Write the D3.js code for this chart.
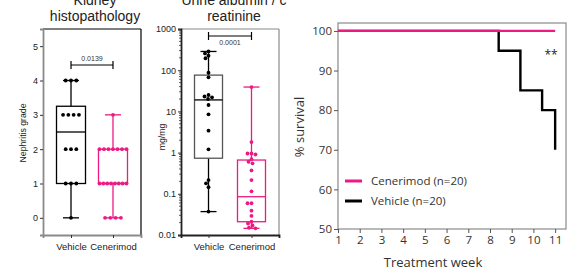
<!DOCTYPE html>
<html>
<head>
<meta charset="utf-8">
<script src="https://cdn.jsdelivr.net/npm/d3@7"></script>
<style>
  body { margin: 0; background: #fff; }
  svg { display: block; }
</style>
</head>
<body>
<div id="chart"></div>
<script>
// values
const groups = ["Vehicle", "Cenerimod"];

// nephritis grade per mouse
const gradeVehicle = [4, 4, 4, 3, 3, 3, 3, 2, 2, 2, 1, 1, 1, 0];
const gradeCenerimod = [3, 2, 2, 2, 2, 2, 2, 2, 1, 1, 1, 1, 1, 1, 1, 1, 0, 0, 0, 0];
// box summaries: min, q1, median, q3, max
const gradeBox = [[0, 1, 2.5, 3.25, 4], [0, 1, 1, 2, 3]];
const gradeTicks = [0, 1, 2, 3, 4, 5];

// urine albumin / creatinine, mg/mg
const uacrVehicle = [285, 255, 225, 195, 87, 67, 25, 23, 22, 20, 14.3, 8.5, 3.4, 1.2, 0.215, 0.18, 0.145, 0.037];
const uacrCenerimod = [39, 1.8, 0.95, 0.95, 0.9, 0.69, 0.6, 0.55, 0.37, 0.215, 0.115, 0.059, 0.059, 0.039, 0.029, 0.021, 0.019, 0.017, 0.015, 0.0145];
const uacrBox = [[0.037, 0.73, 19, 76, 285], [0.0145, 0.021, 0.085, 0.66, 39]];
const uacrTicks = [0.01, 0.1, 1, 10, 100, 1000];
const uacrTickLabels = ["0.01", "0.1", "1", "10", "100", "1000"];

// survival
const weeks = [1, 2, 3, 4, 5, 6, 7, 8, 9, 10, 11];
const survTicks = [50, 60, 70, 80, 90, 100];
const vehicleWeeks = [1, 8.4, 9.4, 10.4, 11];
const vehicleSurv = [100, 95, 85, 80, 70];
const cenerimodWeeks = [1, 11];
const cenerimodSurv = [100, 100];
const legendLabels = ["Cenerimod (n=20)", "Vehicle (n=20)"];

const pink = "#ec1a82";
const colors = ["#000000", pink];

const W = 578, H = 273;
const svg = d3.select("#chart").append("svg")
    .attr("width", W)
    .attr("height", H);

const arial = "Liberation Sans, Arial, sans-serif";
const sans = "Open Sans, Noto Sans, sans-serif";

// ---------- generic box + dots panel ----------
function boxPanel(opt) {
    const g = svg.append("g");
    const x = d3.scalePoint().domain(groups).range([opt.left, opt.right]).padding(opt.pad);
    const y = opt.y;

    // frame
    g.append("line").attr("x1", opt.left).attr("x2", opt.right).attr("y1", opt.top).attr("y2", opt.top)
        .attr("stroke", opt.topColor).attr("stroke-width", 1.2);
    g.append("line").attr("x1", opt.right).attr("x2", opt.right).attr("y1", opt.top).attr("y2", opt.bottom)
        .attr("stroke", opt.topColor).attr("stroke-width", 1.2);

    const yAxis = d3.axisLeft(y).tickValues(opt.ticks).tickSize(3).tickPadding(2)
        .tickFormat((d, i) => opt.tickLabels ? opt.tickLabels[i] : d);
    const ya = g.append("g").attr("transform", `translate(${opt.left},0)`).call(yAxis);
    ya.select(".domain").attr("stroke", opt.axisColor).attr("stroke-width", 1.8);
    ya.selectAll(".tick line").attr("stroke", "#333");
    ya.selectAll("text").attr("font-family", arial).attr("font-size", 9).attr("fill", "#222");

    if (opt.minor) {
        const minor = [];
        for (let e = -2; e < 3; e++) for (let k = 2; k < 10; k++) minor.push(k * Math.pow(10, e));
        g.append("g").selectAll("line").data(minor).join("line")
            .attr("x1", opt.left - 2).attr("x2", opt.left)
            .attr("y1", d => y(d)).attr("y2", d => y(d))
            .attr("stroke", "#333").attr("stroke-width", 0.8);
    }

    const xAxis = d3.axisBottom(x).tickSize(3).tickPadding(3);
    const xa = g.append("g").attr("transform", `translate(0,${opt.bottom})`).call(xAxis);
    xa.select(".domain").attr("stroke", opt.axisColor).attr("stroke-width", 1.8);
    xa.selectAll(".tick line").attr("stroke", "#333");
    xa.selectAll("text").attr("font-family", arial).attr("font-size", 9.5).attr("fill", "#222")
        .attr("dy", "0.9em");

    // y title
    g.append("text")
        .attr("transform", `translate(${opt.ylabX},${opt.ylabY}) rotate(-90)`)
        .attr("text-anchor", "middle")
        .attr("font-family", arial).attr("font-size", 8.7).attr("fill", "#222")
        .text(opt.ylab);

    // panel title
    g.append("g").selectAll("text").data(opt.title).join("text")
        .attr("x", opt.titleX).attr("y", (d, i) => 5 + i * 15.5)
        .attr("text-anchor", "middle")
        .attr("font-family", arial).attr("font-size", 14).attr("fill", "#222")
        .text(d => d);

    // boxes
    const bw = opt.boxWidth;
    opt.box.forEach((b, i) => {
        const cx = x(groups[i]);
        const col = i === 0 ? opt.vehBoxColor : pink;
        const bg = g.append("g").attr("stroke", col).attr("fill", "none").attr("stroke-width", 1.3);
        bg.append("line").attr("x1", cx).attr("x2", cx).attr("y1", y(b[0])).attr("y2", y(b[1]))
            .attr("stroke", colors[i]);
        bg.append("line").attr("x1", cx).attr("x2", cx).attr("y1", y(b[3])).attr("y2", y(b[4]))
            .attr("stroke", colors[i]);
        bg.append("line").attr("x1", cx - 8).attr("x2", cx + 8).attr("y1", y(b[0])).attr("y2", y(b[0]))
            .attr("stroke", colors[i]);
        bg.append("line").attr("x1", cx - 8).attr("x2", cx + 8).attr("y1", y(b[4])).attr("y2", y(b[4]))
            .attr("stroke", colors[i]);
        bg.append("rect").attr("x", cx - bw / 2).attr("width", bw)
            .attr("y", y(b[3])).attr("height", y(b[1]) - y(b[3]));
        bg.append("line").attr("x1", cx - bw / 2).attr("x2", cx + bw / 2)
            .attr("y1", y(b[2])).attr("y2", y(b[2])).attr("stroke", colors[i]);
    });

    // dots
    opt.data.forEach((vals, i) => {
        const cx = x(groups[i]);
        const pts = opt.layout(vals, cx, y);
        g.append("g").selectAll("circle").data(pts).join("circle")
            .attr("cx", d => d.x).attr("cy", d => d.y).attr("r", 1.9)
            .attr("fill", colors[i]);
    });

    // significance bracket
    const x0 = x(groups[0]), x1 = x(groups[1]);
    const br = g.append("g").attr("stroke", "#000").attr("stroke-width", 1.2);
    br.append("line").attr("x1", x0).attr("x2", x1).attr("y1", opt.brY).attr("y2", opt.brY);
    br.append("line").attr("x1", x0).attr("x2", x0).attr("y1", opt.brY - 4).attr("y2", opt.brY + 4);
    br.append("line").attr("x1", x1).attr("x2", x1).attr("y1", opt.brY - 4).attr("y2", opt.brY + 4);
    g.append("text").attr("x", (x0 + x1) / 2).attr("y", opt.pY)
        .attr("text-anchor", "middle")
        .attr("font-family", arial).attr("font-size", 7).attr("fill", "#333")
        .text(opt.p);
}

// rows of equal values, spread horizontally
function rowLayout(vals, cx, y) {
    const counts = d3.rollup(vals, v => v.length, d => d);
    const out = [];
    counts.forEach((n, v) => {
        const s = n > 1 ? Math.min(5.3, 27 / (n - 1)) : 0;
        for (let k = 0; k < n; k++) out.push({x: cx + (k - (n - 1) / 2) * s, y: y(v)});
    });
    return out;
}

// simple beeswarm
function swarmLayout(vals, cx, y) {
    const out = [];
    const dmin = 3.9;
    vals.slice().sort((a, b) => b - a).forEach(v => {
        const py = y(v);
        for (let k = 0; k < 60; k++) {
            const off = (k % 2 === 0 ? 1 : -1) * Math.ceil(k / 2) * 0.5;
            const px = cx + off;
            if (out.every(p => Math.hypot(p.x - px, p.y - py) >= dmin)) {
                out.push({x: px, y: py});
                break;
            }
        }
    });
    return out;
}

boxPanel({
    left: 43, right: 141, top: 29, bottom: 235, pad: 0.667,
    y: d3.scaleLinear().domain([-0.5, 5.5]).range([235, 29]),
    ticks: gradeTicks,
    data: [gradeVehicle, gradeCenerimod], box: gradeBox, layout: rowLayout,
    boxWidth: 29, vehBoxColor: "#000",
    axisColor: "#8a8a8a", topColor: "#000",
    ylab: "Nephritis grade", ylabX: 26, ylabY: 133,
    title: ["Kidney", "histopathology"], titleX: 95,
    brY: 65, pY: 61, p: "0.0139"
});

boxPanel({
    left: 181, right: 279, top: 29, bottom: 235, pad: 0.64,
    y: d3.scaleLog().domain([0.01, 1000]).range([235, 29]),
    ticks: uacrTicks, tickLabels: uacrTickLabels, minor: true,
    data: [uacrVehicle, uacrCenerimod], box: uacrBox, layout: swarmLayout,
    boxWidth: 28, vehBoxColor: "#555",
    axisColor: "#222", topColor: "#8a8a8a",
    ylab: "mg/mg", ylabX: 165, ylabY: 137,
    title: ["Urine albumin / c", "reatinine"], titleX: 234,
    brY: 36, pY: 45, p: "0.0001"
});

// ---------- survival panel ----------
const sv = svg.append("g");
const xs = d3.scaleLinear().domain([1, 11.5]).range([338, 566]);
const ys = d3.scaleLinear().domain([50, 102]).range([229, 23]);

sv.append("rect").attr("x", 338).attr("y", 23).attr("width", 566 - 338).attr("height", 229 - 23)
    .attr("fill", "none").attr("stroke", "#8a8a8a").attr("stroke-width", 1.2);

const sxa = sv.append("g").attr("transform", "translate(0,229)")
    .call(d3.axisBottom(xs).tickValues(weeks).tickSize(4).tickPadding(3).tickFormat(d3.format("d")));
const sya = sv.append("g").attr("transform", "translate(338,0)")
    .call(d3.axisLeft(ys).tickValues(survTicks).tickSize(4).tickPadding(2));
[sxa, sya].forEach(a => {
    a.select(".domain").remove();
    a.selectAll(".tick line").attr("stroke", "#555");
    a.selectAll("text").attr("font-family", sans).attr("font-size", 11.5).attr("fill", "#333");
});

const line = d3.line().x(d => xs(d[0])).y(d => ys(d[1])).curve(d3.curveStepAfter);
sv.append("path").datum(d3.zip(vehicleWeeks, vehicleSurv))
    .attr("d", line).attr("fill", "none").attr("stroke", "#000").attr("stroke-width", 2.4);
sv.append("path").datum(d3.zip(cenerimodWeeks, cenerimodSurv))
    .attr("d", line).attr("fill", "none").attr("stroke", pink).attr("stroke-width", 2.4);

sv.append("text").attr("x", 551).attr("y", 59).attr("text-anchor", "middle")
    .attr("font-family", sans).attr("font-size", 12).attr("fill", "#222").text("**");

const lg = sv.append("g").selectAll("g").data(legendLabels).join("g")
    .attr("transform", (d, i) => `translate(345,${181 + i * 20})`);
lg.append("line").attr("x1", 0).attr("x2", 17)
    .attr("stroke", (d, i) => i === 0 ? pink : "#000").attr("stroke-width", 3);
lg.append("text").attr("x", 26).attr("dy", "0.35em")
    .attr("font-family", sans).attr("font-size", 11.5).attr("fill", "#333").text(d => d);

sv.append("text").attr("x", 433).attr("y", 267).attr("text-anchor", "middle")
    .attr("font-family", sans).attr("font-size", 13).attr("fill", "#333").text("Treatment week");
sv.append("text").attr("transform", "translate(304,127) rotate(-90)").attr("text-anchor", "middle")
    .attr("font-family", sans).attr("font-size", 13).attr("fill", "#333").text("% survival");
</script>
</body>
</html>
